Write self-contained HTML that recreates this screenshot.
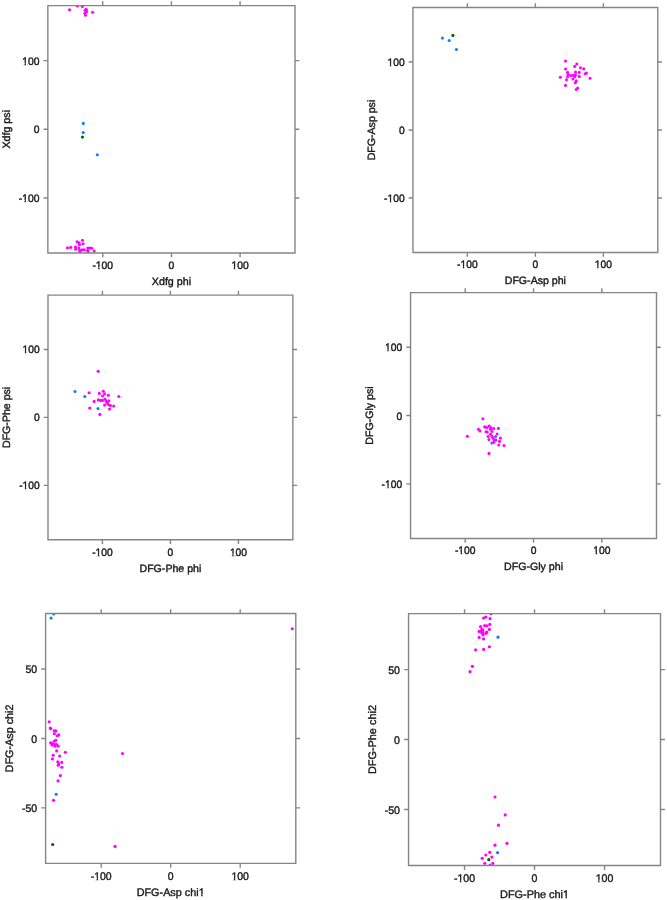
<!DOCTYPE html>
<html><head><meta charset="utf-8"><style>
html,body{margin:0;padding:0;background:#fff;}
body{width:667px;height:900px;overflow:hidden;}
svg{display:block;will-change:transform;}
text{font-family:"Liberation Sans",sans-serif;fill:#1a1a1a;stroke:#1a1a1a;stroke-width:0.4px;text-rendering:geometricPrecision;}
</style></head><body>
<svg width="667" height="900" viewBox="0 0 667 900">
<defs><clipPath id="c0"><rect x="47.85" y="5.6" width="247.15" height="247.4"/></clipPath><clipPath id="c1"><rect x="412.95" y="7.55" width="244.85" height="244.95"/></clipPath><clipPath id="c2"><rect x="48" y="295.1" width="244.85" height="244.6"/></clipPath><clipPath id="c3"><rect x="410.55" y="292.6" width="245.95" height="245.9"/></clipPath><clipPath id="c4"><rect x="45.6" y="613.5" width="250.2" height="249.9"/></clipPath><clipPath id="c5"><rect x="408.55" y="613.6" width="251.95" height="251.9"/></clipPath></defs>
<g clip-path="url(#c0)"><circle cx="83.3" cy="123.4" r="1.55" fill="#0a80ff"/><circle cx="83.2" cy="132.6" r="1.55" fill="#0a80ff"/><circle cx="82.4" cy="137.1" r="1.55" fill="#006000"/><circle cx="97.3" cy="154.7" r="1.55" fill="#0a80ff"/><circle cx="69.5" cy="9.8" r="1.55" fill="#ff00ff"/><circle cx="77.3" cy="6" r="1.55" fill="#ff00ff"/><circle cx="82.3" cy="6.5" r="1.55" fill="#ff00ff"/><circle cx="86.1" cy="9.3" r="1.55" fill="#ff00ff"/><circle cx="85.1" cy="10.2" r="1.55" fill="#ff00ff"/><circle cx="86.7" cy="11.4" r="1.55" fill="#ff00ff"/><circle cx="84.9" cy="13.2" r="1.55" fill="#ff00ff"/><circle cx="85.5" cy="15.3" r="1.55" fill="#ff00ff"/><circle cx="92.6" cy="12.3" r="1.55" fill="#ff00ff"/><circle cx="67.5" cy="247.7" r="1.55" fill="#ff00ff"/><circle cx="70.8" cy="247.4" r="1.55" fill="#ff00ff"/><circle cx="75.5" cy="247.1" r="1.55" fill="#ff00ff"/><circle cx="75.7" cy="249.2" r="1.55" fill="#ff00ff"/><circle cx="77.1" cy="241.7" r="1.55" fill="#ff00ff"/><circle cx="79.1" cy="242.9" r="1.55" fill="#ff00ff"/><circle cx="79.5" cy="244.7" r="1.55" fill="#ff00ff"/><circle cx="82.5" cy="240.2" r="1.55" fill="#ff00ff"/><circle cx="83.1" cy="243.8" r="1.55" fill="#ff00ff"/><circle cx="78.9" cy="248" r="1.55" fill="#ff00ff"/><circle cx="79.8" cy="250.4" r="1.55" fill="#ff00ff"/><circle cx="80.1" cy="251.6" r="1.55" fill="#ff00ff"/><circle cx="82.2" cy="249.8" r="1.55" fill="#ff00ff"/><circle cx="84.3" cy="249.8" r="1.55" fill="#ff00ff"/><circle cx="87.9" cy="248" r="1.55" fill="#ff00ff"/><circle cx="88.1" cy="251.6" r="1.55" fill="#ff00ff"/><circle cx="90" cy="248" r="1.55" fill="#ff00ff"/><circle cx="91.8" cy="248.3" r="1.55" fill="#ff00ff"/><circle cx="94.2" cy="251" r="1.55" fill="#ff00ff"/><circle cx="87.6" cy="250.4" r="1.55" fill="#ff00ff"/></g>
<path d="M47.85 5.6H295V253H47.85ZM102.772 253v4.3M102.772 5.6v-4.3M171.425 253v4.3M171.425 5.6v-4.3M240.078 253v4.3M240.078 5.6v-4.3M47.85 198.022h-4.3M295 198.022h4.3M47.85 129.3h-4.3M295 129.3h4.3M47.85 60.578h-4.3M295 60.578h4.3" fill="none" stroke="#858585" stroke-width="1.4"/>
<g transform="translate(102.772 269.015) scale(0.95 1)"><text font-size="10.9" text-anchor="middle">-100</text><rect x="-7.146" y="-2.014" width="2.349" height="3.014" fill="#fff"/><rect x="-3.314" y="-2.014" width="1.866" height="3.014" fill="#fff"/></g>
<g transform="translate(171.425 269.015) scale(0.95 1)"><text font-size="10.9" text-anchor="middle">0</text></g>
<g transform="translate(240.078 269.015) scale(0.95 1)"><text font-size="10.9" text-anchor="middle">100</text><rect x="-8.961" y="-2.014" width="2.349" height="3.014" fill="#fff"/><rect x="-5.129" y="-2.014" width="1.866" height="3.014" fill="#fff"/></g>
<g transform="translate(39.45 202.037) scale(0.95 1)"><text font-size="10.9" text-anchor="end">-100</text><rect x="-18.054" y="-2.014" width="2.349" height="3.014" fill="#fff"/><rect x="-14.222" y="-2.014" width="1.866" height="3.014" fill="#fff"/></g>
<g transform="translate(39.45 133.315) scale(0.95 1)"><text font-size="10.9" text-anchor="end">0</text></g>
<g transform="translate(39.45 64.593) scale(0.95 1)"><text font-size="10.9" text-anchor="end">100</text><rect x="-18.054" y="-2.014" width="2.349" height="3.014" fill="#fff"/><rect x="-14.222" y="-2.014" width="1.866" height="3.014" fill="#fff"/></g>
<text x="171.425" y="285.1" font-size="10.7" text-anchor="middle">Xdfg phi</text>

<text x="9.75" y="129.3" font-size="10.7" text-anchor="middle" transform="rotate(-90 9.75 129.3)">Xdfg psi</text>
<g clip-path="url(#c1)"><circle cx="442.4" cy="38.1" r="1.536" fill="#0a80ff"/><circle cx="449.2" cy="40.5" r="1.536" fill="#0a80ff"/><circle cx="452.9" cy="35.4" r="1.536" fill="#006000"/><circle cx="456.4" cy="49.5" r="1.536" fill="#0a80ff"/><circle cx="565.5" cy="61.1" r="1.536" fill="#ff00ff"/><circle cx="576.8" cy="64" r="1.536" fill="#ff00ff"/><circle cx="574.7" cy="66.4" r="1.536" fill="#ff00ff"/><circle cx="580.4" cy="67.7" r="1.536" fill="#ff00ff"/><circle cx="583.7" cy="68.9" r="1.536" fill="#ff00ff"/><circle cx="565.6" cy="69" r="1.536" fill="#ff00ff"/><circle cx="567.6" cy="72.2" r="1.536" fill="#ff00ff"/><circle cx="575.5" cy="72.1" r="1.536" fill="#ff00ff"/><circle cx="579.2" cy="72.4" r="1.536" fill="#ff00ff"/><circle cx="586.4" cy="73" r="1.536" fill="#ff00ff"/><circle cx="585.2" cy="73.7" r="1.536" fill="#ff00ff"/><circle cx="568" cy="74.5" r="1.536" fill="#ff00ff"/><circle cx="570.6" cy="75.6" r="1.536" fill="#ff00ff"/><circle cx="573.2" cy="75.2" r="1.536" fill="#ff00ff"/><circle cx="575.5" cy="74.9" r="1.536" fill="#ff00ff"/><circle cx="574.7" cy="76.7" r="1.536" fill="#ff00ff"/><circle cx="567.6" cy="76.7" r="1.536" fill="#ff00ff"/><circle cx="579.2" cy="76.4" r="1.536" fill="#ff00ff"/><circle cx="560.3" cy="77.3" r="1.536" fill="#ff00ff"/><circle cx="590.1" cy="78.2" r="1.536" fill="#ff00ff"/><circle cx="572.9" cy="79" r="1.536" fill="#ff00ff"/><circle cx="566.5" cy="79.7" r="1.536" fill="#ff00ff"/><circle cx="576.2" cy="80.9" r="1.536" fill="#ff00ff"/><circle cx="575.3" cy="82.7" r="1.536" fill="#ff00ff"/><circle cx="565.5" cy="85.4" r="1.536" fill="#ff00ff"/><circle cx="577.7" cy="88" r="1.536" fill="#ff00ff"/><circle cx="576.2" cy="89.5" r="1.536" fill="#ff00ff"/></g>
<path d="M412.95 7.55H657.8V252.5H412.95ZM467.361 252.5v4.26M467.361 7.55v-4.26M535.375 252.5v4.26M535.375 7.55v-4.26M603.389 252.5v4.26M603.389 7.55v-4.26M412.95 198.067h-4.26M657.8 198.067h4.26M412.95 130.025h-4.26M657.8 130.025h4.26M412.95 61.983h-4.26M657.8 61.983h4.26" fill="none" stroke="#858585" stroke-width="1.4"/>
<g transform="translate(467.361 268.366) scale(0.95 1)"><text font-size="10.799" text-anchor="middle">-100</text><rect x="-7.083" y="-2.007" width="2.328" height="3.007" fill="#fff"/><rect x="-3.281" y="-2.007" width="1.849" height="3.007" fill="#fff"/></g>
<g transform="translate(535.375 268.366) scale(0.95 1)"><text font-size="10.799" text-anchor="middle">0</text></g>
<g transform="translate(603.389 268.366) scale(0.95 1)"><text font-size="10.799" text-anchor="middle">100</text><rect x="-8.881" y="-2.007" width="2.328" height="3.007" fill="#fff"/><rect x="-5.079" y="-2.007" width="1.849" height="3.007" fill="#fff"/></g>
<g transform="translate(404.628 202.044) scale(0.95 1)"><text font-size="10.799" text-anchor="end">-100</text><rect x="-17.89" y="-2.007" width="2.328" height="3.007" fill="#fff"/><rect x="-14.087" y="-2.007" width="1.849" height="3.007" fill="#fff"/></g>
<g transform="translate(404.628 134.003) scale(0.95 1)"><text font-size="10.799" text-anchor="end">0</text></g>
<g transform="translate(404.628 65.961) scale(0.95 1)"><text font-size="10.799" text-anchor="end">100</text><rect x="-17.89" y="-2.007" width="2.328" height="3.007" fill="#fff"/><rect x="-14.087" y="-2.007" width="1.849" height="3.007" fill="#fff"/></g>
<text x="535.375" y="284.301" font-size="10.6" text-anchor="middle">DFG-Asp phi</text>

<text x="375.205" y="130.025" font-size="10.6" text-anchor="middle" transform="rotate(-90 375.205 130.025)">DFG-Asp psi</text>
<g clip-path="url(#c2)"><circle cx="75" cy="391.5" r="1.536" fill="#0a80ff"/><circle cx="84.8" cy="396.5" r="1.536" fill="#0a80ff"/><circle cx="98" cy="408.6" r="1.536" fill="#0a80ff"/><circle cx="98.1" cy="371.2" r="1.536" fill="#ff00ff"/><circle cx="89.1" cy="392.7" r="1.536" fill="#ff00ff"/><circle cx="99.3" cy="393.4" r="1.536" fill="#ff00ff"/><circle cx="103.3" cy="391.3" r="1.536" fill="#ff00ff"/><circle cx="104.6" cy="393.9" r="1.536" fill="#ff00ff"/><circle cx="102.5" cy="396" r="1.536" fill="#ff00ff"/><circle cx="108.3" cy="395.2" r="1.536" fill="#ff00ff"/><circle cx="118.8" cy="396.5" r="1.536" fill="#ff00ff"/><circle cx="94.1" cy="401.4" r="1.536" fill="#ff00ff"/><circle cx="98.3" cy="399.9" r="1.536" fill="#ff00ff"/><circle cx="100.4" cy="400.4" r="1.536" fill="#ff00ff"/><circle cx="102.5" cy="400.4" r="1.536" fill="#ff00ff"/><circle cx="105.1" cy="399.3" r="1.536" fill="#ff00ff"/><circle cx="106.2" cy="401.4" r="1.536" fill="#ff00ff"/><circle cx="108.8" cy="400.9" r="1.536" fill="#ff00ff"/><circle cx="107.2" cy="403" r="1.536" fill="#ff00ff"/><circle cx="108.3" cy="404.6" r="1.536" fill="#ff00ff"/><circle cx="104.6" cy="405.1" r="1.536" fill="#ff00ff"/><circle cx="110.4" cy="405.6" r="1.536" fill="#ff00ff"/><circle cx="113.7" cy="406" r="1.536" fill="#ff00ff"/><circle cx="109.5" cy="409.1" r="1.536" fill="#ff00ff"/><circle cx="89.7" cy="408.1" r="1.536" fill="#ff00ff"/><circle cx="99.9" cy="414.4" r="1.536" fill="#ff00ff"/></g>
<path d="M48 295.1H292.85V539.7H48ZM102.411 539.7v4.26M102.411 295.1v-4.26M170.425 539.7v4.26M170.425 295.1v-4.26M238.439 539.7v4.26M238.439 295.1v-4.26M48 485.344h-4.26M292.85 485.344h4.26M48 417.4h-4.26M292.85 417.4h4.26M48 349.456h-4.26M292.85 349.456h4.26" fill="none" stroke="#858585" stroke-width="1.4"/>
<g transform="translate(102.411 555.566) scale(0.95 1)"><text font-size="10.799" text-anchor="middle">-100</text><rect x="-7.083" y="-2.007" width="2.328" height="3.007" fill="#fff"/><rect x="-3.281" y="-2.007" width="1.849" height="3.007" fill="#fff"/></g>
<g transform="translate(170.425 555.566) scale(0.95 1)"><text font-size="10.799" text-anchor="middle">0</text></g>
<g transform="translate(238.439 555.566) scale(0.95 1)"><text font-size="10.799" text-anchor="middle">100</text><rect x="-8.881" y="-2.007" width="2.328" height="3.007" fill="#fff"/><rect x="-5.079" y="-2.007" width="1.849" height="3.007" fill="#fff"/></g>
<g transform="translate(39.678 489.322) scale(0.95 1)"><text font-size="10.799" text-anchor="end">-100</text><rect x="-17.89" y="-2.007" width="2.328" height="3.007" fill="#fff"/><rect x="-14.087" y="-2.007" width="1.849" height="3.007" fill="#fff"/></g>
<g transform="translate(39.678 421.378) scale(0.95 1)"><text font-size="10.799" text-anchor="end">0</text></g>
<g transform="translate(39.678 353.433) scale(0.95 1)"><text font-size="10.799" text-anchor="end">100</text><rect x="-17.89" y="-2.007" width="2.328" height="3.007" fill="#fff"/><rect x="-14.087" y="-2.007" width="1.849" height="3.007" fill="#fff"/></g>
<text x="170.425" y="571.501" font-size="10.6" text-anchor="middle">DFG-Phe phi</text>

<text x="10.255" y="417.4" font-size="10.6" text-anchor="middle" transform="rotate(-90 10.255 417.4)">DFG-Phe psi</text>
<g clip-path="url(#c3)"><circle cx="495.6" cy="436.5" r="1.542" fill="#0a80ff"/><circle cx="491.9" cy="443" r="1.542" fill="#0a80ff"/><circle cx="482.9" cy="418.7" r="1.542" fill="#ff00ff"/><circle cx="484.7" cy="426.9" r="1.542" fill="#ff00ff"/><circle cx="486.9" cy="427.5" r="1.542" fill="#ff00ff"/><circle cx="489.2" cy="426.1" r="1.542" fill="#ff00ff"/><circle cx="491" cy="427.9" r="1.542" fill="#ff00ff"/><circle cx="493.7" cy="428.6" r="1.542" fill="#ff00ff"/><circle cx="498.4" cy="428.4" r="1.542" fill="#ff00ff"/><circle cx="478.4" cy="429.3" r="1.542" fill="#ff00ff"/><circle cx="480" cy="430.9" r="1.542" fill="#ff00ff"/><circle cx="490.5" cy="429.3" r="1.542" fill="#ff00ff"/><circle cx="491.9" cy="431.5" r="1.542" fill="#ff00ff"/><circle cx="486" cy="431.8" r="1.542" fill="#ff00ff"/><circle cx="487.2" cy="432" r="1.542" fill="#ff00ff"/><circle cx="497.1" cy="434" r="1.542" fill="#ff00ff"/><circle cx="490.5" cy="434.2" r="1.542" fill="#ff00ff"/><circle cx="467.3" cy="436.2" r="1.542" fill="#ff00ff"/><circle cx="488.1" cy="436.5" r="1.542" fill="#ff00ff"/><circle cx="491.9" cy="436" r="1.542" fill="#ff00ff"/><circle cx="492.8" cy="437.8" r="1.542" fill="#ff00ff"/><circle cx="500.4" cy="438.1" r="1.542" fill="#ff00ff"/><circle cx="489" cy="439.6" r="1.542" fill="#ff00ff"/><circle cx="494.1" cy="439.6" r="1.542" fill="#ff00ff"/><circle cx="495.9" cy="440.1" r="1.542" fill="#ff00ff"/><circle cx="499.5" cy="441.4" r="1.542" fill="#ff00ff"/><circle cx="493.7" cy="442.3" r="1.542" fill="#ff00ff"/><circle cx="498.8" cy="445" r="1.542" fill="#ff00ff"/><circle cx="504" cy="445.5" r="1.542" fill="#ff00ff"/><circle cx="489" cy="453.4" r="1.542" fill="#ff00ff"/></g>
<path d="M410.55 292.6H656.5V538.5H410.55ZM465.206 538.5v4.279M465.206 292.6v-4.279M533.525 538.5v4.279M533.525 292.6v-4.279M601.844 538.5v4.279M601.844 292.6v-4.279M410.55 483.856h-4.279M656.5 483.856h4.279M410.55 415.55h-4.279M656.5 415.55h4.279M410.55 347.244h-4.279M656.5 347.244h4.279" fill="none" stroke="#858585" stroke-width="1.4"/>
<g transform="translate(465.206 554.437) scale(0.95 1)"><text font-size="10.847" text-anchor="middle">-100</text><rect x="-7.113" y="-2.01" width="2.338" height="3.01" fill="#fff"/><rect x="-3.297" y="-2.01" width="1.857" height="3.01" fill="#fff"/></g>
<g transform="translate(533.525 554.437) scale(0.95 1)"><text font-size="10.847" text-anchor="middle">0</text></g>
<g transform="translate(601.844 554.437) scale(0.95 1)"><text font-size="10.847" text-anchor="middle">100</text><rect x="-8.919" y="-2.01" width="2.338" height="3.01" fill="#fff"/><rect x="-5.103" y="-2.01" width="1.857" height="3.01" fill="#fff"/></g>
<g transform="translate(402.191 487.851) scale(0.95 1)"><text font-size="10.847" text-anchor="end">-100</text><rect x="-17.968" y="-2.01" width="2.338" height="3.01" fill="#fff"/><rect x="-14.152" y="-2.01" width="1.857" height="3.01" fill="#fff"/></g>
<g transform="translate(402.191 419.546) scale(0.95 1)"><text font-size="10.847" text-anchor="end">0</text></g>
<g transform="translate(402.191 351.24) scale(0.95 1)"><text font-size="10.847" text-anchor="end">100</text><rect x="-17.968" y="-2.01" width="2.338" height="3.01" fill="#fff"/><rect x="-14.152" y="-2.01" width="1.857" height="3.01" fill="#fff"/></g>
<text x="533.525" y="570.444" font-size="10.648" text-anchor="middle">DFG-Gly phi</text>

<text x="372.635" y="415.55" font-size="10.648" text-anchor="middle" transform="rotate(-90 372.635 415.55)">DFG-Gly psi</text>
<g clip-path="url(#c4)"><circle cx="53.7" cy="614" r="1.569" fill="#0a80ff"/><circle cx="51.1" cy="618.1" r="1.569" fill="#0a80ff"/><circle cx="56.2" cy="794.2" r="1.569" fill="#0a80ff"/><circle cx="52.7" cy="844.5" r="1.569" fill="#006000"/><circle cx="49.2" cy="721.8" r="1.569" fill="#ff00ff"/><circle cx="50.2" cy="728" r="1.569" fill="#ff00ff"/><circle cx="50.8" cy="728.7" r="1.569" fill="#ff00ff"/><circle cx="54.2" cy="730.9" r="1.569" fill="#ff00ff"/><circle cx="55.8" cy="730.9" r="1.569" fill="#ff00ff"/><circle cx="54.4" cy="733.8" r="1.569" fill="#ff00ff"/><circle cx="57.3" cy="735.8" r="1.569" fill="#ff00ff"/><circle cx="58.8" cy="734.9" r="1.569" fill="#ff00ff"/><circle cx="55.8" cy="740.2" r="1.569" fill="#ff00ff"/><circle cx="54.2" cy="741.3" r="1.569" fill="#ff00ff"/><circle cx="50.7" cy="742.9" r="1.569" fill="#ff00ff"/><circle cx="52.4" cy="743.6" r="1.569" fill="#ff00ff"/><circle cx="52" cy="745.1" r="1.569" fill="#ff00ff"/><circle cx="54.2" cy="744.2" r="1.569" fill="#ff00ff"/><circle cx="56.4" cy="744.2" r="1.569" fill="#ff00ff"/><circle cx="55.1" cy="746.3" r="1.569" fill="#ff00ff"/><circle cx="58.2" cy="746" r="1.569" fill="#ff00ff"/><circle cx="56.7" cy="750.9" r="1.569" fill="#ff00ff"/><circle cx="65.3" cy="752.3" r="1.569" fill="#ff00ff"/><circle cx="53.2" cy="755.3" r="1.569" fill="#ff00ff"/><circle cx="59.6" cy="756" r="1.569" fill="#ff00ff"/><circle cx="52.4" cy="758.9" r="1.569" fill="#ff00ff"/><circle cx="57.8" cy="761.7" r="1.569" fill="#ff00ff"/><circle cx="61.8" cy="762.4" r="1.569" fill="#ff00ff"/><circle cx="58.7" cy="763.8" r="1.569" fill="#ff00ff"/><circle cx="58.2" cy="765.3" r="1.569" fill="#ff00ff"/><circle cx="61.8" cy="767.3" r="1.569" fill="#ff00ff"/><circle cx="60.3" cy="775.6" r="1.569" fill="#ff00ff"/><circle cx="58" cy="780.9" r="1.569" fill="#ff00ff"/><circle cx="53.5" cy="800.2" r="1.569" fill="#ff00ff"/><circle cx="115" cy="846.4" r="1.569" fill="#ff00ff"/><circle cx="122.5" cy="753.5" r="1.569" fill="#ff00ff"/><circle cx="292.3" cy="628.8" r="1.569" fill="#ff00ff"/></g>
<path d="M45.6 613.5H295.8V863.4H45.6ZM101.2 863.4v4.353M101.2 613.5v-4.353M170.7 863.4v4.353M170.7 613.5v-4.353M240.2 863.4v4.353M240.2 613.5v-4.353M45.6 807.867h-4.353M295.8 807.867h4.353M45.6 738.45h-4.353M295.8 738.45h4.353M45.6 669.033h-4.353M295.8 669.033h4.353" fill="none" stroke="#858585" stroke-width="1.4"/>
<g transform="translate(101.2 879.613) scale(0.95 1)"><text font-size="11.035" text-anchor="middle">-100</text><rect x="-7.229" y="-2.024" width="2.376" height="3.024" fill="#fff"/><rect x="-3.358" y="-2.024" width="1.888" height="3.024" fill="#fff"/></g>
<g transform="translate(170.7 879.613) scale(0.95 1)"><text font-size="11.035" text-anchor="middle">0</text></g>
<g transform="translate(240.2 879.613) scale(0.95 1)"><text font-size="11.035" text-anchor="middle">100</text><rect x="-9.067" y="-2.024" width="2.376" height="3.024" fill="#fff"/><rect x="-5.195" y="-2.024" width="1.888" height="3.024" fill="#fff"/></g>
<g transform="translate(37.096 811.931) scale(0.95 1)"><text font-size="11.035" text-anchor="end">-50</text></g>
<g transform="translate(37.096 742.515) scale(0.95 1)"><text font-size="11.035" text-anchor="end">0</text></g>
<g transform="translate(37.096 673.098) scale(0.95 1)"><text font-size="11.035" text-anchor="end">50</text></g>
<text x="170.7" y="895.896" font-size="10.832" text-anchor="middle">DFG-Asp chi1</text>
<rect x="198.813" y="893.887" width="2.335" height="3.009" fill="#fff"/><rect x="202.626" y="893.887" width="2.454" height="3.009" fill="#fff"/>
<text x="13.306" y="738.45" font-size="10.832" text-anchor="middle" transform="rotate(-90 13.306 738.45)">DFG-Asp chi2</text>
<g clip-path="url(#c5)"><circle cx="482.8" cy="631.7" r="1.58" fill="#0a80ff"/><circle cx="498" cy="637.2" r="1.58" fill="#0a80ff"/><circle cx="497.6" cy="852.7" r="1.58" fill="#0a80ff"/><circle cx="488.8" cy="859.7" r="1.58" fill="#006000"/><circle cx="490.9" cy="613.7" r="1.58" fill="#ff00ff"/><circle cx="483.6" cy="618" r="1.58" fill="#ff00ff"/><circle cx="485.9" cy="617" r="1.58" fill="#ff00ff"/><circle cx="490" cy="618.7" r="1.58" fill="#ff00ff"/><circle cx="480.6" cy="626.7" r="1.58" fill="#ff00ff"/><circle cx="484.7" cy="625.6" r="1.58" fill="#ff00ff"/><circle cx="487" cy="625.8" r="1.58" fill="#ff00ff"/><circle cx="489.8" cy="624.4" r="1.58" fill="#ff00ff"/><circle cx="481.9" cy="629.4" r="1.58" fill="#ff00ff"/><circle cx="482.8" cy="630" r="1.58" fill="#ff00ff"/><circle cx="479.1" cy="631.4" r="1.58" fill="#ff00ff"/><circle cx="480.8" cy="631.3" r="1.58" fill="#ff00ff"/><circle cx="486.7" cy="632.2" r="1.58" fill="#ff00ff"/><circle cx="485.9" cy="633.3" r="1.58" fill="#ff00ff"/><circle cx="489.4" cy="629.4" r="1.58" fill="#ff00ff"/><circle cx="482.2" cy="633.3" r="1.58" fill="#ff00ff"/><circle cx="483.1" cy="634.8" r="1.58" fill="#ff00ff"/><circle cx="479.1" cy="637.4" r="1.58" fill="#ff00ff"/><circle cx="483.6" cy="638.9" r="1.58" fill="#ff00ff"/><circle cx="489.4" cy="646.8" r="1.58" fill="#ff00ff"/><circle cx="475.6" cy="649.8" r="1.58" fill="#ff00ff"/><circle cx="483.6" cy="649.4" r="1.58" fill="#ff00ff"/><circle cx="472.4" cy="666.3" r="1.58" fill="#ff00ff"/><circle cx="470" cy="671.7" r="1.58" fill="#ff00ff"/><circle cx="495" cy="797" r="1.58" fill="#ff00ff"/><circle cx="505.2" cy="814.9" r="1.58" fill="#ff00ff"/><circle cx="498.5" cy="825.2" r="1.58" fill="#ff00ff"/><circle cx="507" cy="843.3" r="1.58" fill="#ff00ff"/><circle cx="495" cy="845.2" r="1.58" fill="#ff00ff"/><circle cx="489.8" cy="852.3" r="1.58" fill="#ff00ff"/><circle cx="485.8" cy="855" r="1.58" fill="#ff00ff"/><circle cx="491.9" cy="857.1" r="1.58" fill="#ff00ff"/><circle cx="482.2" cy="858.3" r="1.58" fill="#ff00ff"/><circle cx="484.8" cy="863.3" r="1.58" fill="#ff00ff"/><circle cx="492.9" cy="863.4" r="1.58" fill="#ff00ff"/><circle cx="490.1" cy="865.2" r="1.58" fill="#ff00ff"/></g>
<path d="M408.55 613.6H660.5V865.5H408.55ZM464.539 865.5v4.384M464.539 613.6v-4.384M534.525 865.5v4.384M534.525 613.6v-4.384M604.511 865.5v4.384M604.511 613.6v-4.384M408.55 809.522h-4.384M660.5 809.522h4.384M408.55 739.55h-4.384M660.5 739.55h4.384M408.55 669.578h-4.384M660.5 669.578h4.384" fill="none" stroke="#858585" stroke-width="1.4"/>
<g transform="translate(464.539 881.826) scale(0.95 1)"><text font-size="11.112" text-anchor="middle">-100</text><rect x="-7.277" y="-2.03" width="2.392" height="3.03" fill="#fff"/><rect x="-3.383" y="-2.03" width="1.901" height="3.03" fill="#fff"/></g>
<g transform="translate(534.525 881.826) scale(0.95 1)"><text font-size="11.112" text-anchor="middle">0</text></g>
<g transform="translate(604.511 881.826) scale(0.95 1)"><text font-size="11.112" text-anchor="middle">100</text><rect x="-9.127" y="-2.03" width="2.392" height="3.03" fill="#fff"/><rect x="-5.233" y="-2.03" width="1.901" height="3.03" fill="#fff"/></g>
<g transform="translate(399.987 813.615) scale(0.95 1)"><text font-size="11.112" text-anchor="end">-50</text></g>
<g transform="translate(399.987 743.643) scale(0.95 1)"><text font-size="11.112" text-anchor="end">0</text></g>
<g transform="translate(399.987 673.671) scale(0.95 1)"><text font-size="11.112" text-anchor="end">50</text></g>
<text x="534.525" y="898.223" font-size="10.908" text-anchor="middle">DFG-Phe chi1</text>
<rect x="563.144" y="896.209" width="2.35" height="3.015" fill="#fff"/><rect x="566.978" y="896.209" width="2.467" height="3.015" fill="#fff"/>
<text x="376.03" y="739.55" font-size="10.908" text-anchor="middle" transform="rotate(-90 376.03 739.55)">DFG-Phe chi2</text>
</svg>
</body></html>
